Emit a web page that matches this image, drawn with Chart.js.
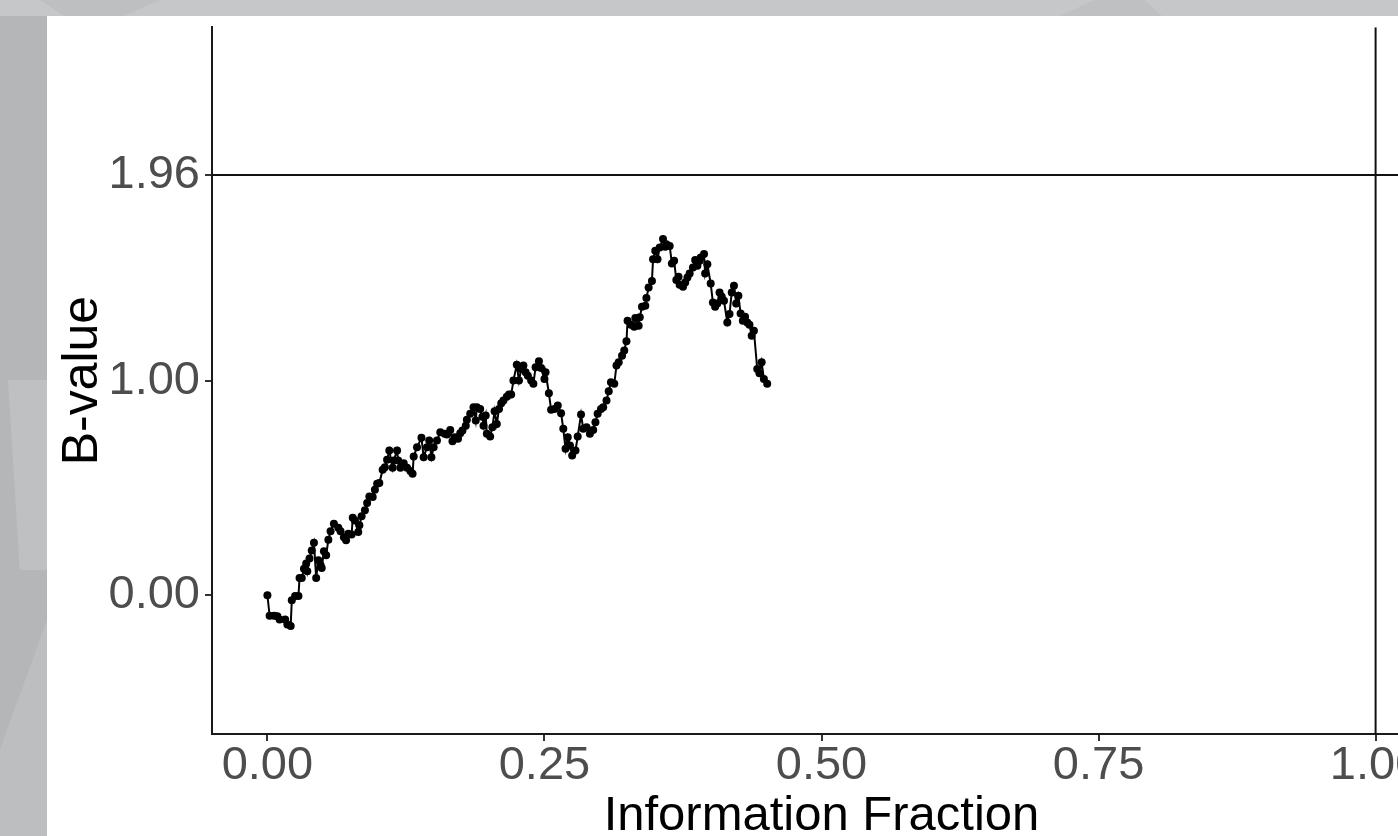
<!DOCTYPE html>
<html>
<head>
<meta charset="utf-8">
<script src="https://cdn.jsdelivr.net/npm/chart.js@4.4.1/dist/chart.umd.min.js"></script>
<style>
  html, body { margin: 0; padding: 0; overflow: hidden; width: 1398px; height: 836px; }
  body { background: #bcbdbf; position: relative; }
  .bg { position: absolute; }
  #top { left: 0; top: 0; width: 1398px; height: 16px; background: #c6c7c9; }
  #shade1 { left: 40px; top: 0; width: 120px; height: 16px; background: #bebfc1; clip-path: polygon(0 0, 100% 0, 70% 100%, 20% 100%); }
  #shade2 { left: 1060px; top: 0; width: 170px; height: 16px; background: #bfc0c2; clip-path: polygon(20% 0, 50% 0, 60% 100%, 0 100%); }
  #left { left: 0; top: 16px; width: 47px; height: 820px; background: #b5b6b8; }
  #band1 { left: 8px; top: 380px; width: 39px; height: 190px; background: #bfc0c2; clip-path: polygon(0 0, 100% 0, 100% 100%, 30% 100%); }
  #band2 { left: 0; top: 620px; width: 47px; height: 216px; background: #bdbec0; clip-path: polygon(100% 0, 100% 100%, 0 100%, 0 60%); }
  #panel { position: absolute; left: 47px; top: 16px; width: 1500px; height: 900px; background: #fff; }
  #chart { position: absolute; left: 0; top: -22px; }
</style>
</head>
<body>
<div class="bg" id="top"></div>
<div class="bg" id="shade1"></div>
<div class="bg" id="shade2"></div>
<div class="bg" id="left"></div>
<div class="bg" id="band1"></div>
<div class="bg" id="band2"></div>
<div id="panel"><canvas id="chart" width="1388" height="858"></canvas></div>
<script>
// information fraction of each look
const infoFraction = [
  0.000, 0.002, 0.006, 0.009, 0.011, 0.016, 0.018, 0.021, 0.022, 0.025,
  0.028, 0.029, 0.031, 0.033, 0.035, 0.036, 0.038, 0.040, 0.042, 0.044,
  0.046, 0.048, 0.049, 0.051, 0.053, 0.055, 0.057, 0.060, 0.064, 0.066,
  0.069, 0.071, 0.073, 0.076, 0.077, 0.079, 0.082, 0.083, 0.085, 0.088,
  0.090, 0.092, 0.095, 0.097, 0.099, 0.101, 0.104, 0.106, 0.108, 0.110,
  0.113, 0.114, 0.117, 0.118, 0.120, 0.123, 0.126, 0.129, 0.131, 0.132,
  0.135, 0.139, 0.141, 0.144, 0.146, 0.148, 0.150, 0.153, 0.156, 0.160,
  0.162, 0.165, 0.167, 0.169, 0.172, 0.174, 0.176, 0.179, 0.180, 0.183,
  0.186, 0.188, 0.189, 0.192, 0.194, 0.195, 0.197, 0.198, 0.201, 0.203,
  0.205, 0.207, 0.209, 0.211, 0.213, 0.216, 0.218, 0.220, 0.222, 0.225,
  0.227, 0.229, 0.231, 0.233, 0.235, 0.238, 0.240, 0.242, 0.245, 0.247,
  0.250, 0.251, 0.254, 0.256, 0.259, 0.262, 0.265, 0.267, 0.269, 0.271,
  0.273, 0.275, 0.278, 0.280, 0.283, 0.285, 0.288, 0.291, 0.294, 0.296,
  0.298, 0.301, 0.303, 0.306, 0.308, 0.310, 0.313, 0.315, 0.317, 0.320,
  0.322, 0.324, 0.325, 0.328, 0.331, 0.332, 0.335, 0.336, 0.338, 0.341,
  0.342, 0.344, 0.347, 0.348, 0.350, 0.352, 0.354, 0.357, 0.359, 0.360,
  0.363, 0.365, 0.367, 0.369, 0.371, 0.372, 0.375, 0.377, 0.379, 0.381,
  0.384, 0.386, 0.388, 0.390, 0.391, 0.394, 0.395, 0.397, 0.400, 0.402,
  0.404, 0.406, 0.408, 0.410, 0.412, 0.415, 0.417, 0.419, 0.421, 0.423,
  0.425, 0.427, 0.429, 0.431, 0.433, 0.435, 0.437, 0.439, 0.442, 0.444,
  0.446, 0.448, 0.451
];

const bValues = [
  0.000, -0.096, -0.096, -0.098, -0.113, -0.113, -0.136, -0.143, -0.023, -0.003,
  -0.003, 0.081, 0.081, 0.124, 0.148, 0.112, 0.171, 0.209, 0.245, 0.081,
  0.163, 0.140, 0.127, 0.205, 0.186, 0.259, 0.299, 0.334, 0.315, 0.299,
  0.271, 0.256, 0.287, 0.283, 0.362, 0.349, 0.295, 0.326, 0.368, 0.396,
  0.430, 0.461, 0.458, 0.492, 0.520, 0.523, 0.585, 0.597, 0.632, 0.675,
  0.595, 0.628, 0.675, 0.628, 0.595, 0.616, 0.595, 0.579, 0.567, 0.647,
  0.690, 0.734, 0.644, 0.690, 0.722, 0.644, 0.690, 0.722, 0.760, 0.753,
  0.750, 0.771, 0.718, 0.737, 0.730, 0.756, 0.768, 0.791, 0.818, 0.846,
  0.877, 0.815, 0.877, 0.869, 0.833, 0.791, 0.838, 0.753, 0.740, 0.784,
  0.858, 0.799, 0.869, 0.895, 0.908, 0.926, 0.936, 0.936, 1.001, 1.075,
  1.001, 1.055, 1.071, 1.040, 1.024, 1.001, 0.986, 1.063, 1.091, 1.060,
  1.009, 1.040, 0.942, 0.865, 0.869, 0.885, 0.849, 0.776, 0.683, 0.737,
  0.698, 0.652, 0.675, 0.740, 0.843, 0.776, 0.784, 0.753, 0.771, 0.807,
  0.846, 0.869, 0.877, 0.908, 0.951, 0.993, 0.986, 1.071, 1.086, 1.117,
  1.141, 1.184, 1.280, 1.262, 1.252, 1.293, 1.257, 1.296, 1.345, 1.350,
  1.386, 1.435, 1.466, 1.567, 1.606, 1.567, 1.622, 1.661, 1.625, 1.637,
  1.629, 1.547, 1.560, 1.470, 1.485, 1.448, 1.439, 1.459, 1.482, 1.500,
  1.528, 1.563, 1.536, 1.560, 1.575, 1.591, 1.500, 1.544, 1.454, 1.365,
  1.345, 1.361, 1.412, 1.392, 1.373, 1.272, 1.311, 1.412, 1.443, 1.361,
  1.397, 1.314, 1.280, 1.299, 1.272, 1.262, 1.210, 1.234, 1.055, 1.035,
  1.086, 1.009, 0.986
];

const xTicks = [0, 0.25, 0.5, 0.75, 1];
const yTicks = [0, 1, 1.96];
const boundary = 1.96;     // horizontal reference line
const finalFraction = 1;   // vertical reference line
const xRange = [-0.05, 1.05];
const yRange = [-0.647, 2.649];

const points = infoFraction.map((f, i) => ({ x: f, y: bValues[i] }));
const fontFamily = '"Liberation Sans", Arial, sans-serif';

const ctx = document.getElementById("chart").getContext("2d");
const chart = new Chart(ctx, {
  type: 'line',
  data: {
    datasets: [
      {
        data: [{ x: xRange[0], y: boundary }, { x: xRange[1], y: boundary }],
        borderColor: '#111',
        borderWidth: 2,
        pointRadius: 0,
      },
      {
        data: [{ x: finalFraction, y: yRange[0] }, { x: finalFraction, y: yRange[1] }],
        borderColor: '#111',
        borderWidth: 2,
        pointRadius: 0,
      },
      {
        data: points,
        borderColor: '#000',
        borderWidth: 2,
        pointRadius: 4,
        pointBackgroundColor: '#000',
        pointBorderWidth: 0,
        tension: 0,
      },
    ],
  },
  options: {
    responsive: false,
    animation: false,
    events: [],
    layout: { padding: 0 },
    plugins: { legend: { display: false }, tooltip: { enabled: false } },
    scales: {
      x: {
        type: 'linear',
        min: xRange[0],
        max: xRange[1],
        afterBuildTicks: (s) => { s.ticks = xTicks.map(v => ({ value: v })); },
        afterFit: (s) => { s.height = 118; },
        border: { display: true, color: '#1a1a1a', width: 2 },
        grid: { drawOnChartArea: false, drawTicks: true, tickLength: 7, color: '#333', lineWidth: 2 },
        ticks: {
          padding: -3,
          color: '#4d4d4d',
          font: { family: fontFamily, size: 47 },
          maxRotation: 0,
          autoSkip: false,
          callback: (v) => Number(v).toFixed(2),
        },
        title: {
          display: true,
          text: 'Information Fraction',
          color: '#000',
          font: { family: fontFamily, size: 49 },
          padding: { top: 0, bottom: 6 },
        },
      },
      y: {
        type: 'linear',
        min: yRange[0],
        max: yRange[1],
        afterBuildTicks: (s) => { s.ticks = yTicks.map(v => ({ value: v })); },
        afterFit: (s) => { s.width = 165; },
        border: { display: true, color: '#1a1a1a', width: 2 },
        grid: { drawOnChartArea: false, drawTicks: true, tickLength: 7, color: '#333', lineWidth: 2 },
        ticks: {
          padding: 5,
          color: '#4d4d4d',
          font: { family: fontFamily, size: 47 },
          autoSkip: false,
          callback: (v) => Number(v).toFixed(2),
        },
        title: {
          display: true,
          text: 'B-value',
          color: '#000',
          font: { family: fontFamily, size: 50 },
          padding: { top: 6, bottom: 0 },
        },
      },
    },
  },
});
</script>
</body>
</html>
